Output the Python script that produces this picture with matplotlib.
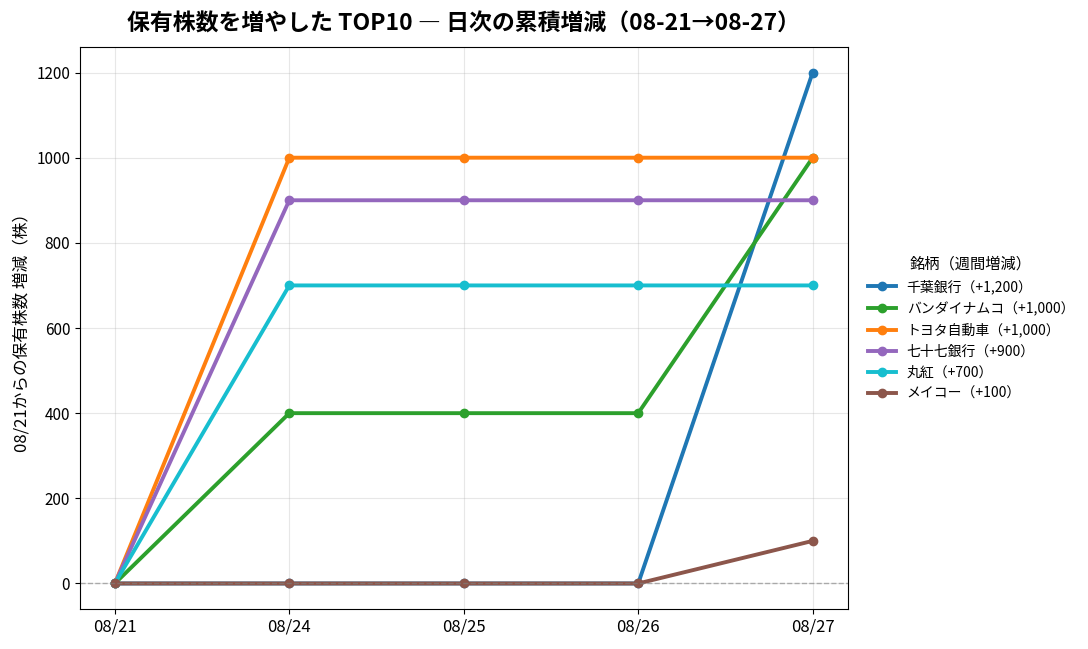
import matplotlib
matplotlib.use("Agg")
import matplotlib.pyplot as plt

plt.rcParams['font.family'] = ['Noto Sans CJK JP', 'DejaVu Sans']

dates = ['08/21', '08/24', '08/25', '08/26', '08/27']
names = ['千葉銀行', 'バンダイナムコ', 'トヨタ自動車', '七十七銀行', '丸紅', 'メイコー']
weekly = [1200, 1000, 1000, 900, 700, 100]
colors = ['tab:blue', 'tab:green', 'tab:orange', 'tab:purple', 'tab:cyan', 'tab:brown']

chiba = [0, 0, 0, 0, 1200]
bandai = [0, 400, 400, 400, 1000]
toyota = [0, 1000, 1000, 1000, 1000]
shichijushichi = [0, 900, 900, 900, 900]
marubeni = [0, 700, 700, 700, 700]
meiko = [0, 0, 0, 0, 100]
series = [chiba, bandai, toyota, shichijushichi, marubeni, meiko]

fig, ax = plt.subplots(figsize=(10.88, 6.49), dpi=100)

for name, w, vals, c in zip(names, weekly, series, colors):
    ax.plot(dates, vals, marker='o', markersize=6, linewidth=2.8, color=c,
            label=f'{name}（+{w:,}）')

ax.axhline(0, color='gray', linestyle='--', linewidth=1, alpha=0.6)
ax.grid(True, alpha=0.3)
ax.set_ylabel('08/21からの保有株数 増減（株）', fontsize=12)
ax.set_title('保有株数を増やした TOP10 \u2015 日次の累積増減（08-21→08-27）',
             fontsize=16.5, fontweight='bold', pad=12)
ax.tick_params(axis='x', labelsize=12)
ax.tick_params(axis='y', labelsize=11)

ax.legend(title='銘柄（週間増減）', loc='center left', bbox_to_anchor=(1.01, 0.5),
          frameon=False, fontsize=10, title_fontsize=11)

fig.subplots_adjust(left=0.0735, right=0.779, top=0.9276, bottom=0.0616)
plt.savefig('out.png', dpi=100)
